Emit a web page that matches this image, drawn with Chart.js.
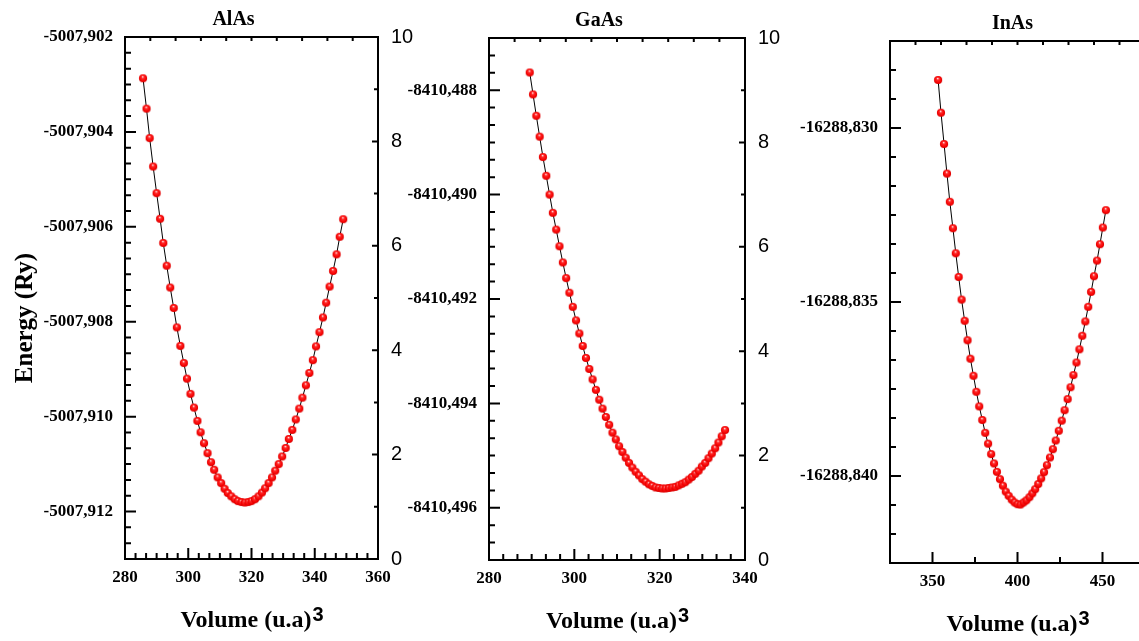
<!DOCTYPE html>
<html lang="pt">
<head>
<meta charset="utf-8">
<title>Energia x Volume - AlAs, GaAs, InAs</title>
<script src="https://cdn.jsdelivr.net/npm/chart.js@4.4.1/dist/chart.umd.min.js"></script>
<style>
  body { margin: 0; background: #fff; }
  #quadro { position: relative; width: 1139px; height: 641px; overflow: hidden; background: #fff; }
  #quadro canvas { position: absolute; left: 0; top: 0; }
</style>
</head>
<body>
<div id="quadro">
  <canvas id="graficoAlAs" width="1200" height="641"></canvas>
  <canvas id="graficoGaAs" width="1200" height="641"></canvas>
  <canvas id="graficoInAs" width="1200" height="641"></canvas>
</div>
<script>
// Volumes (u.a)^3 e energias totais (Ry) de cada composto
const volAlAs = [285.7, 286.8, 287.8, 288.9, 290.0, 291.1, 292.1, 293.2, 294.3, 295.4,
  296.4, 297.5, 298.6, 299.6, 300.7, 301.8, 302.9, 303.9, 305.0, 306.1,
  307.2, 308.2, 309.3, 310.4, 311.5, 312.5, 313.6, 314.7, 315.7, 316.8,
  317.9, 319.0, 320.0, 321.1, 322.2, 323.3, 324.3, 325.4, 326.5, 327.5,
  328.6, 329.7, 330.8, 331.8, 332.9, 334.0, 335.1, 336.1, 337.2, 338.3,
  339.4, 340.4, 341.5, 342.6, 343.6, 344.7, 345.8, 346.9, 347.9, 349.0];
const enAlAs = [-5007.90287, -5007.90351, -5007.90413, -5007.90473, -5007.90529, -5007.90583, -5007.90634, -5007.90682, -5007.90728, -5007.90771,
  -5007.90812, -5007.90851, -5007.90887, -5007.90920, -5007.90952, -5007.90981, -5007.91009, -5007.91033, -5007.91056, -5007.91077,
  -5007.91096, -5007.91112, -5007.91128, -5007.91140, -5007.91152, -5007.91161, -5007.91168, -5007.91174, -5007.91178, -5007.91180,
  -5007.91181, -5007.91180, -5007.91178, -5007.91174, -5007.91168, -5007.91160, -5007.91151, -5007.91140, -5007.91128, -5007.91114,
  -5007.91100, -5007.91084, -5007.91066, -5007.91047, -5007.91028, -5007.91006, -5007.90983, -5007.90960, -5007.90934, -5007.90908,
  -5007.90881, -5007.90852, -5007.90822, -5007.90791, -5007.90760, -5007.90726, -5007.90693, -5007.90658, -5007.90621, -5007.90584];

const volGaAs = [289.54, 290.32, 291.09, 291.87, 292.64, 293.42, 294.20, 294.97, 295.75, 296.52,
  297.30, 298.08, 298.85, 299.63, 300.40, 301.18, 301.96, 302.73, 303.51, 304.28,
  305.06, 305.84, 306.61, 307.39, 308.16, 308.94, 309.72, 310.49, 311.27, 312.04,
  312.82, 313.60, 314.37, 315.15, 315.92, 316.70, 317.48, 318.25, 319.03, 319.80,
  320.58, 321.36, 322.13, 322.91, 323.68, 324.46, 325.24, 326.01, 326.79, 327.56,
  328.34, 329.12, 329.89, 330.67, 331.44, 332.22, 333.00, 333.77, 334.55, 335.32];
const enGaAs = [-8410.48766, -8410.48808, -8410.48849, -8410.48889, -8410.48928, -8410.48964, -8410.49000, -8410.49035, -8410.49067, -8410.49099,
  -8410.49130, -8410.49160, -8410.49188, -8410.49215, -8410.49241, -8410.49266, -8410.49290, -8410.49313, -8410.49334, -8410.49354,
  -8410.49374, -8410.49393, -8410.49410, -8410.49426, -8410.49441, -8410.49456, -8410.49469, -8410.49482, -8410.49493, -8410.49504,
  -8410.49514, -8410.49523, -8410.49531, -8410.49538, -8410.49545, -8410.49550, -8410.49555, -8410.49558, -8410.49561, -8410.49562,
  -8410.49563, -8410.49563, -8410.49562, -8410.49561, -8410.49560, -8410.49557, -8410.49554, -8410.49551, -8410.49546, -8410.49541,
  -8410.49535, -8410.49529, -8410.49521, -8410.49514, -8410.49505, -8410.49496, -8410.49486, -8410.49475, -8410.49463, -8410.49451];

const volInAs = [353.3, 355.0, 356.8, 358.5, 360.2, 362.0, 363.7, 365.4, 367.1, 368.9,
  370.6, 372.3, 374.1, 375.8, 377.5, 379.3, 381.0, 382.7, 384.5, 386.2,
  387.9, 389.7, 391.4, 393.1, 394.8, 396.6, 398.3, 400.0, 401.8, 403.5,
  405.2, 407.0, 408.7, 410.4, 412.2, 413.9, 415.6, 417.3, 419.1, 420.8,
  422.5, 424.3, 426.0, 427.7, 429.5, 431.2, 432.9, 434.7, 436.4, 438.1,
  439.9, 441.6, 443.3, 445.0, 446.8, 448.5, 450.2, 452.0];
const enInAs = [-16288.82862, -16288.82956, -16288.83046, -16288.83131, -16288.83212, -16288.83288, -16288.83360, -16288.83428, -16288.83493, -16288.83554,
  -16288.83610, -16288.83663, -16288.83712, -16288.83758, -16288.83800, -16288.83839, -16288.83876, -16288.83907, -16288.83937, -16288.83964,
  -16288.83988, -16288.84009, -16288.84028, -16288.84045, -16288.84057, -16288.84068, -16288.84076, -16288.84081, -16288.84082, -16288.84076,
  -16288.84070, -16288.84061, -16288.84050, -16288.84038, -16288.84023, -16288.84007, -16288.83989, -16288.83969, -16288.83947, -16288.83923,
  -16288.83898, -16288.83870, -16288.83841, -16288.83811, -16288.83779, -16288.83745, -16288.83710, -16288.83674, -16288.83636, -16288.83597,
  -16288.83556, -16288.83514, -16288.83471, -16288.83426, -16288.83381, -16288.83334, -16288.83286, -16288.83236];

// Marcas principais de cada eixo
const marcasXAlAs = [280, 300, 320, 340, 360];
const marcasYAlAs = [-5007.912, -5007.910, -5007.908, -5007.906, -5007.904, -5007.902];
const marcasXGaAs = [280, 300, 320, 340];
const marcasYGaAs = [-8410.496, -8410.494, -8410.492, -8410.490, -8410.488];
const marcasXInAs = [350, 400, 450];
const marcasYInAs = [-16288.840, -16288.835, -16288.830];
const marcasDireita = [0, 2, 4, 6, 8, 10];
const marcasTopo = [0, 1, 2, 3, 4, 5, 6, 7, 8, 9, 10];

const LARGURA = 1200, ALTURA = 641;
const LARG_EIXO_Y = 110;   // caixa do eixo esquerdo (os rótulos são recortados nela)
const serifNegrito = { family: '"Liberation Serif", "Times New Roman", serif', size: 17, weight: 'bold' };
const semSerifa = { family: '"Liberation Sans", Arial, sans-serif', size: 20, weight: 'normal' };

// Bolinha vermelha com brilho, usada como pointStyle
function criarEsfera() {
  const c = document.createElement('canvas');
  c.width = 10; c.height = 10;
  const g = c.getContext('2d');
  const grad = g.createRadialGradient(4.6, 3.3, 0.2, 5, 5, 4.4);
  grad.addColorStop(0, '#ffe8e8');
  grad.addColorStop(0.28, '#ff2a2a');
  grad.addColorStop(0.75, '#f50000');
  grad.addColorStop(1, '#c80000');
  g.fillStyle = grad;
  g.beginPath();
  g.arc(5, 5, 4.1, 0, Math.PI * 2);
  g.fill();
  return c;
}
const esfera = criarEsfera();

// Marcas de escala voltadas para dentro (principais e secundárias)
function criarMarcas(eixos) {
  return {
    id: 'marcasInternas',
    afterDraw(chart) {
      const { ctx, chartArea: a } = chart;
      ctx.save();
      ctx.strokeStyle = '#000';
      ctx.lineWidth = 2;
      ctx.beginPath();
      eixos.forEach(e => {
        const s = chart.scales[e.id];
        const base = s.ticks.map(t => t.value);
        const passo = (base[1] - base[0]) / e.divisoes;
        const kIni = Math.ceil((s.min - base[0]) / passo - 1e-6);
        const kFim = Math.floor((s.max - base[0]) / passo + 1e-6);
        for (let k = kIni; k <= kFim; k++) {
          const p = s.getPixelForValue(base[0] + k * passo);
          const tam = (k % e.divisoes === 0) ? e.maior : e.menor;
          if (s.position === 'left') { ctx.moveTo(a.left, p); ctx.lineTo(a.left + tam, p); }
          else if (s.position === 'right') { ctx.moveTo(a.right, p); ctx.lineTo(a.right - tam, p); }
          else if (s.position === 'bottom') { ctx.moveTo(p, a.bottom); ctx.lineTo(p, a.bottom - tam); }
          else { ctx.moveTo(p, a.top); ctx.lineTo(p, a.top + tam); }
        }
      });
      ctx.stroke();
      ctx.restore();
    }
  };
}

// Nome do composto, título do eixo x com expoente e, no primeiro painel, o título do eixo y
function criarRotulos(o) {
  return {
    id: 'rotulos',
    afterDraw(chart) {
      const { ctx, chartArea: a } = chart;
      const meio = (a.left + a.right) / 2;
      ctx.save();
      ctx.fillStyle = '#000';
      ctx.textBaseline = 'alphabetic';

      ctx.font = 'bold 20px "Liberation Serif"';
      ctx.textAlign = 'center';
      ctx.fillText(o.titulo, meio + o.desvioTitulo, a.top - 12);

      const texto = 'Volume (u.a)';
      ctx.font = 'bold 24px "Liberation Serif"';
      const w1 = ctx.measureText(texto).width;
      ctx.font = 'bold 20px "Liberation Sans"';
      const w2 = ctx.measureText('3').width;
      const x0 = meio - (w1 + w2) / 2;
      const yb = a.bottom + 68;
      ctx.textAlign = 'left';
      ctx.font = 'bold 24px "Liberation Serif"';
      ctx.fillText(texto, x0, yb);
      ctx.font = 'bold 20px "Liberation Sans"';
      ctx.fillText('3', x0 + w1 + 1, yb - 6);

      if (o.tituloY) {
        ctx.translate(a.left - 99, (a.top + a.bottom) / 2 + 20);
        ctx.rotate(-Math.PI / 2);
        ctx.font = 'bold 25px "Liberation Serif"';
        ctx.textAlign = 'center';
        ctx.textBaseline = 'middle';
        ctx.fillText(o.tituloY, 0, 0);
      }
      ctx.restore();
    }
  };
}

function montarPainel(idCanvas, p) {
  const pontos = p.vol.map((v, i) => ({ x: v, y: p.en[i] }));
  const borda = { display: true, color: '#000', width: 2 };
  const semGrade = { display: false, drawTicks: false };

  new Chart(document.getElementById(idCanvas), {
    type: 'scatter',
    data: {
      datasets: [{
        data: pontos,
        showLine: true,
        borderColor: '#000',
        borderWidth: 1,
        pointStyle: esfera,
        pointRadius: 4,
        tension: 0,
        xAxisID: 'x',
        yAxisID: 'y'
      }]
    },
    options: {
      responsive: false,
      animation: false,
      events: [],
      layout: {
        padding: {
          left: p.area.esq - LARG_EIXO_Y,
          right: LARGURA - p.area.dir - 50,
          top: p.area.topo,
          bottom: ALTURA - p.area.base - 40
        }
      },
      plugins: {
        legend: { display: false },
        tooltip: { enabled: false }
      },
      scales: {
        x: {
          type: 'linear', position: 'bottom', min: p.xMin, max: p.xMax,
          afterFit: s => { s.height = 40; },
          afterBuildTicks: s => { s.ticks = p.marcasX.map(v => ({ value: v })); },
          grid: semGrade, border: borda,
          ticks: { padding: 8, color: '#000', font: serifNegrito, autoSkip: false, maxRotation: 0 }
        },
        xTopo: {
          axis: 'x', type: 'linear', position: 'top', min: 0, max: 10,
          afterFit: s => { s.height = 0; },
          afterBuildTicks: s => { s.ticks = marcasTopo.map(v => ({ value: v })); },
          grid: semGrade, border: borda,
          ticks: { display: false }
        },
        y: {
          type: 'linear', position: 'left', min: p.yMin, max: p.yMax,
          afterFit: s => { s.width = LARG_EIXO_Y; },
          afterBuildTicks: s => { s.ticks = p.marcasY.map(v => ({ value: v })); },
          grid: semGrade, border: borda,
          ticks: {
            padding: 12, color: '#000', font: serifNegrito, autoSkip: false,
            callback: v => v.toFixed(3).replace('.', ',')
          }
        },
        yDir: {
          axis: 'y', type: 'linear', position: 'right', min: 0, max: 10,
          afterFit: s => { s.width = 50; },
          afterBuildTicks: s => { s.ticks = marcasDireita.map(v => ({ value: v })); },
          grid: semGrade, border: borda,
          ticks: { padding: 13, color: '#000', font: semSerifa, autoSkip: false }
        }
      }
    },
    plugins: [
      criarMarcas([
        { id: 'x', divisoes: p.divX, maior: 11, menor: 6 },
        { id: 'y', divisoes: 6, maior: 11, menor: 6 },
        { id: 'yDir', divisoes: 2, maior: 6, menor: 4 },
        { id: 'xTopo', divisoes: 1, maior: 4, menor: 4 }
      ]),
      criarRotulos({ titulo: p.titulo, desvioTitulo: p.desvioTitulo, tituloY: p.tituloY })
    ]
  });
}

window.addEventListener('DOMContentLoaded', () => {
  montarPainel('graficoAlAs', {
    titulo: 'AlAs', desvioTitulo: -18, tituloY: 'Energy (Ry)',
    vol: volAlAs, en: enAlAs,
    xMin: 280, xMax: 360, marcasX: marcasXAlAs, divX: 6,
    yMin: -5007.913, yMax: -5007.902, marcasY: marcasYAlAs,
    area: { esq: 125, dir: 378, topo: 37, base: 559 }
  });
  montarPainel('graficoGaAs', {
    titulo: 'GaAs', desvioTitulo: -18,
    vol: volGaAs, en: enGaAs,
    xMin: 280, xMax: 340, marcasX: marcasXGaAs, divX: 6,
    yMin: -8410.497, yMax: -8410.487, marcasY: marcasYGaAs,
    area: { esq: 489, dir: 745, topo: 38, base: 560 }
  });
  montarPainel('graficoInAs', {
    titulo: 'InAs', desvioTitulo: -5,
    vol: volInAs, en: enInAs,
    xMin: 325, xMax: 475, marcasX: marcasXInAs, divX: 2,
    yMin: -16288.8425, yMax: -16288.8275, marcasY: marcasYInAs,
    area: { esq: 890, dir: 1145, topo: 41, base: 563 }
  });
});
</script>
</body>
</html>
